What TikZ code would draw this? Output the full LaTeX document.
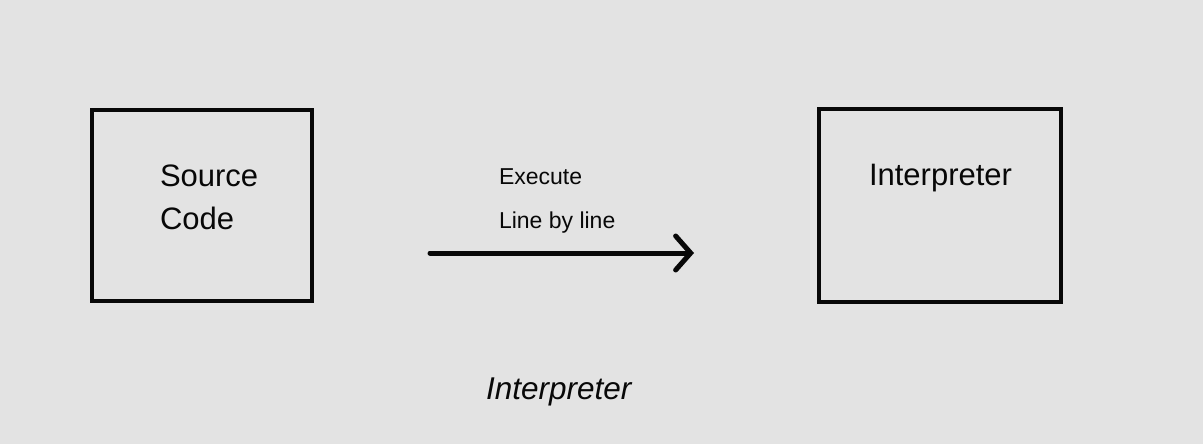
\documentclass[tikz,border=0pt]{standalone}
\usepackage{fontspec}
\setmainfont{Liberation Sans}
\usetikzlibrary{arrows.meta}
\definecolor{bg}{HTML}{E3E3E3}
\definecolor{ink}{HTML}{080808}
\begin{document}
\begin{tikzpicture}[x=1pt,y=-1pt,
  box/.style={draw=ink,line width=4.6pt,inner sep=0pt,outer sep=0pt,line join=miter},
  lbl/.style={inner sep=0pt,outer sep=0pt,anchor=base west,text=ink},
  big/.style={lbl,font=\fontsize{31}{36}\selectfont},
  small/.style={lbl,font=\fontsize{23}{27}\selectfont},
  conn/.style={draw=ink,line width=5pt,line cap=round,-{Straight Barb[length=15pt,width=34pt,line cap=round]}}]
\fill[bg] (0,0) rectangle (1203,444);
\useasboundingbox (0,0) rectangle (1203,444);
\node[box,minimum width=220pt,minimum height=191pt] (src) at (202,205.5) {};
\node[box,minimum width=242pt,minimum height=193pt] (interp) at (940,205.5) {};
\node[big] (srct1) at (160,186) {Source};
\node[big] (srct2) at (160,229) {Code};
\node[big] (interpt) at (869,185) {Interpreter};
\node[small] (exec) at (499,184) {Execute};
\node[small] (lbl) at (499,228) {Line by line};
\coordinate (a0) at (430,253);
\coordinate (a1) at (694,253);
\draw[conn] (a0) -- (a1);
\node[lbl,font=\fontsize{31.5}{36}\selectfont\itshape] (title) at (486,399) {Interpreter};
\end{tikzpicture}
\end{document}
